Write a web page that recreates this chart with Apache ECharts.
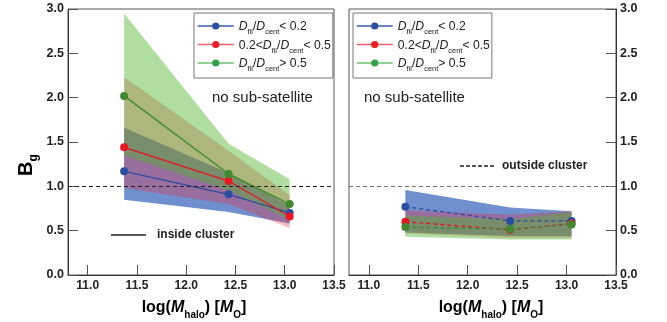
<!DOCTYPE html>
<html>
<head>
<meta charset="utf-8">
<script src="https://cdn.jsdelivr.net/npm/echarts@6/dist/echarts.min.js"></script>
<style>
  html, body { margin: 0; padding: 0; background: #fff; }
  #chart { width: 667px; height: 322px; }
</style>
</head>
<body>
<div id="chart"></div>
<script>
// halo-mass bins (log M_halo)
const massBins = [11.37, 12.43, 13.05];
const xTicks = [11.0, 11.5, 12.0, 12.5, 13.0, 13.5];
const yTicks = [0.0, 0.5, 1.0, 1.5, 2.0, 2.5, 3.0];
const groupNames = ['lt02', 'mid', 'gt05'];

// inside cluster: bias and its spread
const inBlue = [1.17, 0.91, 0.70];
const inBlueHi = [1.66, 1.15, 0.78];
const inBlueLo = [0.85, 0.71, 0.58];
const inRed = [1.44, 1.06, 0.66];
const inRedHi = [2.23, 1.40, 0.90];
const inRedLo = [0.98, 0.80, 0.53];
const inGreen = [2.02, 1.14, 0.80];
const inGreenHi = [2.95, 1.48, 1.08];
const inGreenLo = [1.35, 0.95, 0.62];

// outside cluster: bias and its spread
const outBlue = [0.77, 0.61, 0.61];
const outBlueHi = [0.96, 0.76, 0.72];
const outBlueLo = [0.48, 0.44, 0.44];
const outRed = [0.60, 0.51, 0.58];
const outRedHi = [0.73, 0.68, 0.72];
const outRedLo = [0.47, 0.42, 0.42];
const outGreen = [0.54, 0.52, 0.57];
const outGreenHi = [0.67, 0.63, 0.71];
const outGreenLo = [0.43, 0.40, 0.40];

const FONT = 'Liberation Sans, Arial, Helvetica, sans-serif';
const lineColors = ['#2e4a9e', '#e8141c', '#3f8a2e'];
const markColors = ['#2b4ea2', '#e8161f', '#3f8a2e'];
const bandFills = ['rgba(50,95,185,0.70)', 'rgba(238,40,60,0.32)', 'rgba(80,180,45,0.45)'];
const legendMarks = ['#2b4ea2', '#ec1a22', '#35a04a'];
const legendLines = ['#3d5bb3', '#f06068', '#6cc070'];

const chart = echarts.init(document.getElementById('chart'), null, { renderer: 'canvas' });

function band(gi, hi, lo, color) {
  return {
    type: 'custom',
    xAxisIndex: gi, yAxisIndex: gi,
    silent: true,
    z: 1,
    data: [[massBins[0], lo[0]]],
    renderItem: function (params, api) {
      const pts = [];
      for (let i = 0; i < massBins.length; i++) pts.push(api.coord([massBins[i], hi[i]]));
      for (let i = massBins.length - 1; i >= 0; i--) pts.push(api.coord([massBins[i], lo[i]]));
      return { type: 'polygon', shape: { points: pts }, style: { fill: color, stroke: null } };
    }
  };
}

function line(name, gi, vals, k, dashed) {
  return {
    type: 'line', name: name,
    xAxisIndex: gi, yAxisIndex: gi,
    z: 3,
    data: massBins.map((x, i) => [x, vals[i]]),
    symbol: 'circle', symbolSize: 8,
    lineStyle: { color: lineColors[k], width: 1.3, type: dashed ? [4, 3] : 'solid' },
    itemStyle: { color: markColors[k] },
    emphasis: { disabled: true },
    animation: false
  };
}

function refLine(gi, color) {
  return {
    type: 'line', xAxisIndex: gi, yAxisIndex: gi, data: [], z: 2,
    markLine: {
      silent: true, symbol: 'none', animation: false,
      label: { show: false },
      lineStyle: { color: color, width: 1.2, type: [4, 3] },
      data: [{ yAxis: 1.0 }]
    }
  };
}

function xAxis(gi) {
  return {
    type: 'value', gridIndex: gi, min: 10.8, max: 13.5,
    axisLine: { show: true, lineStyle: { color: '#333', width: 1 } },
    axisTick: { show: true, inside: true, length: 10, customValues: xTicks, lineStyle: { color: '#555' } },
    axisLabel: {
      customValues: xTicks, margin: 5,
      formatter: v => v.toFixed(1),
      fontFamily: FONT, fontWeight: 'bold', fontSize: 12, color: '#222'
    },
    splitLine: { show: false }
  };
}

function yAxis(gi, pos) {
  return {
    type: 'value', gridIndex: gi, min: 0, max: 3, interval: 0.5, position: pos,
    axisLine: { show: true, lineStyle: { color: '#333', width: 1 } },
    axisTick: { show: true, inside: true, length: 10, lineStyle: { color: '#555' } },
    axisLabel: {
      margin: 4,
      formatter: v => v.toFixed(1),
      fontFamily: FONT, fontWeight: 'bold', fontSize: 12.5, color: '#222'
    },
    splitLine: { show: false }
  };
}

const legendRich = {
  n: { fontFamily: FONT, fontSize: 12.2, color: '#222', lineHeight: 14, verticalAlign: 'bottom' },
  i: { fontFamily: FONT, fontSize: 12.2, fontStyle: 'italic', color: '#222', lineHeight: 14, verticalAlign: 'bottom' },
  s: { fontFamily: FONT, fontSize: 7.5, color: '#222', lineHeight: 14, verticalAlign: 'bottom', padding: [0, 0, -3, 0] }
};
const legendText = {
  lt02: '{i|D}{s|fil}{n|/}{i|D}{s|cent}{n|< 0.2}',
  mid: '{n|0.2<}{i|D}{s|fil}{n|/}{i|D}{s|cent}{n|< 0.5}',
  gt05: '{i|D}{s|fil}{n|/}{i|D}{s|cent}{n|> 0.5}'
};

function legend(left) {
  return {
    orient: 'vertical', left: left, top: 13,
    padding: [8, 2, 5, 3],
    itemGap: 3.5, itemWidth: 36, itemHeight: 9,
    borderColor: '#777', borderWidth: 1,
    selectedMode: false,
    formatter: name => legendText[name],
    textStyle: { rich: legendRich },
    data: groupNames.map((n, k) => ({
      name: n,
      itemStyle: { color: legendMarks[k] },
      lineStyle: { color: legendLines[k], width: 1.5, type: 'solid' }
    }))
  };
}

const axisRich = {
  n: { fontFamily: FONT, fontSize: 16, fontWeight: 'bold', color: '#222', lineHeight: 20, verticalAlign: 'bottom' },
  i: { fontFamily: FONT, fontSize: 16, fontWeight: 'bold', fontStyle: 'italic', color: '#222', lineHeight: 20, verticalAlign: 'bottom' },
  s: { fontFamily: FONT, fontSize: 10, fontWeight: 'bold', color: '#222', lineHeight: 20, verticalAlign: 'bottom', padding: [0, 0, -4, 0] }
};
const xName = '{n|log(}{i|M}{s|halo}{n|) [}{i|M}{s|O}{n|]}';

const option = {
  animation: false,
  backgroundColor: '#fff',
  grid: [
    { left: 68, top: 9, width: 266, height: 266, show: true, borderColor: '#555', borderWidth: 1 },
    { left: 349, top: 9, width: 267, height: 266, show: true, borderColor: '#555', borderWidth: 1 }
  ],
  xAxis: [xAxis(0), xAxis(1)],
  yAxis: [yAxis(0, 'left'), yAxis(1, 'right')],
  legend: [legend(194), legend(353)],
  series: [
    band(0, inBlueHi, inBlueLo, bandFills[0]),
    band(0, inRedHi, inRedLo, bandFills[1]),
    band(0, inGreenHi, inGreenLo, bandFills[2]),
    band(1, outBlueHi, outBlueLo, bandFills[0]),
    band(1, outRedHi, outRedLo, bandFills[1]),
    band(1, outGreenHi, outGreenLo, bandFills[2]),
    refLine(0, '#222'),
    refLine(1, '#777'),
    line(groupNames[0], 0, inBlue, 0, false),
    line(groupNames[1], 0, inRed, 1, false),
    line(groupNames[2], 0, inGreen, 2, false),
    line(groupNames[0], 1, outBlue, 0, true),
    line(groupNames[1], 1, outRed, 1, true),
    line(groupNames[2], 1, outGreen, 2, true)
  ],
  graphic: [
    { type: 'text', x: 212, y: 98, style: { text: 'no sub-satellite', font: '15px ' + FONT, fill: '#222', verticalAlign: 'middle' } },
    { type: 'text', x: 364, y: 98, style: { text: 'no sub-satellite', font: '15px ' + FONT, fill: '#222', verticalAlign: 'middle' } },
    { type: 'line', shape: { x1: 111, y1: 235, x2: 146, y2: 235 }, style: { stroke: '#222', lineWidth: 1.5 } },
    { type: 'text', x: 157, y: 235, style: { text: 'inside cluster', font: 'bold 12px ' + FONT, fill: '#222', verticalAlign: 'middle' } },
    { type: 'line', shape: { x1: 460, y1: 166, x2: 496, y2: 166 }, style: { stroke: '#222', lineWidth: 1.3, lineDash: [4, 2] } },
    { type: 'text', x: 502, y: 166, style: { text: 'outside cluster', font: 'bold 12px ' + FONT, fill: '#222', verticalAlign: 'middle' } },
    { type: 'text', x: 194, y: 306, style: { text: xName, rich: axisRich, align: 'center', verticalAlign: 'middle' } },
    { type: 'text', x: 491, y: 306, style: { text: xName, rich: axisRich, align: 'center', verticalAlign: 'middle' } },
    {
      type: 'text', x: 24, y: 165, rotation: Math.PI / 2,
      style: {
        text: '{b|B}{g|g}', align: 'center', verticalAlign: 'middle',
        rich: {
          b: { fontFamily: FONT, fontSize: 20, fontWeight: 'bold', color: '#222', lineHeight: 24, verticalAlign: 'bottom' },
          g: { fontFamily: FONT, fontSize: 12, fontWeight: 'bold', color: '#222', lineHeight: 24, verticalAlign: 'bottom', padding: [0, 0, -4, 0] }
        }
      }
    }
  ]
};

chart.setOption(option);
</script>
</body>
</html>
